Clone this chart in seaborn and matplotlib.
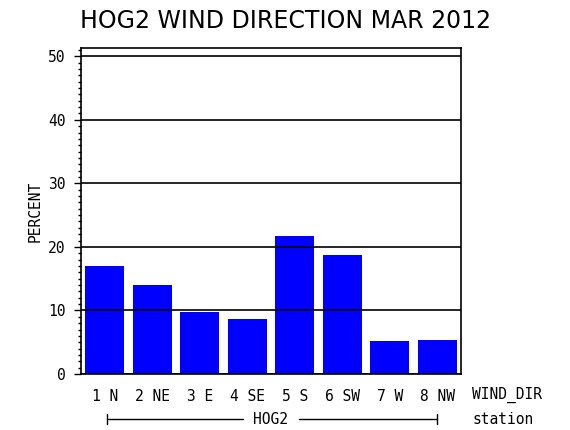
import matplotlib
matplotlib.use("Agg")
import matplotlib.pyplot as plt
from matplotlib.ticker import MultipleLocator
import seaborn as sns
import pandas as pd

directions = ["1 N", "2 NE", "3 E", "4 SE", "5 S", "6 SW", "7 W", "8 NW"]
percent = [17.0, 14.0, 9.75, 8.65, 21.7, 18.7, 5.2, 5.35]
station = "HOG2"

df = pd.DataFrame({"WIND_DIR": directions, "PERCENT": percent})

sns.set_style("white")
plt.rcParams["font.family"] = ["DejaVu Sans"]
plt.rcParams["text.color"] = "black"
plt.rcParams["axes.labelcolor"] = "black"
plt.rcParams["xtick.color"] = "black"
plt.rcParams["ytick.color"] = "black"
mono = "DejaVu Sans Mono"
fs = 10.5

fig = plt.figure(figsize=(5.7, 4.3), dpi=100)
ax = fig.add_axes([81 / 570, 56 / 430, 380 / 570, 326 / 430])

sns.barplot(data=df, x="WIND_DIR", y="PERCENT", color="#0000ff", saturation=1,
            width=0.82, ax=ax, zorder=2, edgecolor="none", linewidth=0)

ax.set_ylim(0, 51.3)
ax.set_xlim(-0.5, 7.5)
ax.yaxis.set_major_locator(MultipleLocator(10))
ax.yaxis.set_minor_locator(MultipleLocator(1))
ax.set_axisbelow(False)
ax.grid(axis="y", color="black", linewidth=1.2, zorder=3)
for s in ax.spines.values():
    s.set_color("black")
    s.set_linewidth(1.2)
    s.set_visible(True)
ax.tick_params(axis="y", which="major", length=5, width=1, direction="out",
               labelsize=fs, left=True, pad=6, colors="black")
ax.tick_params(axis="y", which="minor", length=2, width=1, direction="out", left=True)
ax.tick_params(axis="x", length=0, labelsize=fs, pad=11, colors="black")
ax.set_yticks([0, 10, 20, 30, 40, 50])
ax.set_yticklabels([str(v) for v in [0, 10, 20, 30, 40, 50]], family=mono)
ax.set_xticks(range(len(directions)))
ax.set_xticklabels(directions, family=mono)
ax.set_xlabel("")
ax.set_ylabel("PERCENT", fontsize=fs, family=mono, labelpad=4, color="black")

fig.text(0.5, 1 - 21 / 430, "HOG2 WIND DIRECTION MAR 2012", ha="center", va="center",
         fontsize=17, color="black")
fig.text(472 / 570, 1 - 395 / 430, "WIND_DIR", ha="left", va="center",
         fontsize=fs, family=mono)
fig.text(472 / 570, 1 - 419 / 430, "station", ha="left", va="center",
         fontsize=fs, family=mono)

# station bracket under the categories
yb = 1 - 419 / 430
x0, x1 = 107 / 570, 437 / 570
g0, g1 = 243 / 570, 299 / 570
fig.add_artist(plt.Line2D([x0, g0], [yb, yb], color="black", lw=1))
fig.add_artist(plt.Line2D([g1, x1], [yb, yb], color="black", lw=1))
fig.add_artist(plt.Line2D([x0, x0], [yb - 0.012, yb + 0.012], color="black", lw=1))
fig.add_artist(plt.Line2D([x1, x1], [yb - 0.012, yb + 0.012], color="black", lw=1))
fig.text((g0 + g1) / 2, yb, station, ha="center", va="center", fontsize=fs,
         family=mono)

fig.savefig("out.png", dpi=100)
